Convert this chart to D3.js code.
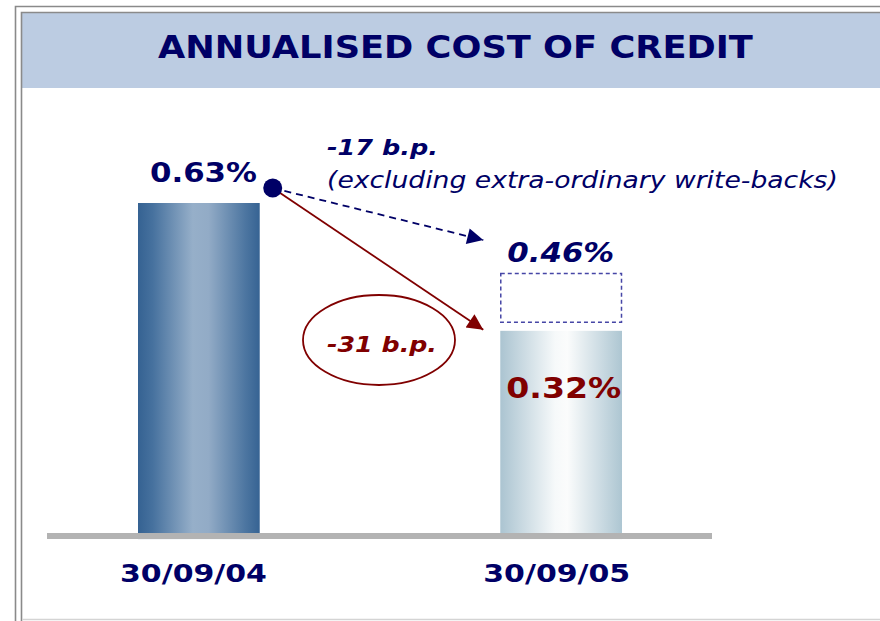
<!DOCTYPE html>
<html><head><meta charset="utf-8">
<script src="https://cdn.jsdelivr.net/npm/d3@7"></script>
<style>body{margin:0;background:#fff}svg{display:block}</style>
</head><body>
<script>
const title = "ANNUALISED COST OF CREDIT";
const categories = ["30/09/04", "30/09/05"];
const values = [0.63, 0.32];
const adjustedValue = 0.46; // excluding extra-ordinary write-backs
const valueLabels = ["0.63%", "0.32%"];
const adjustedLabel = "0.46%";
const deltaAdjusted = "-17 b.p.";
const deltaAdjustedNote = "(excluding extra-ordinary write-backs)";
const deltaReported = "-31 b.p.";

const W = 880, H = 621;
const navy = "#000066", red = "#800000";
const font = "DejaVu Sans, Verdana, sans-serif";

const svg = d3.select("body").append("svg").attr("width", W).attr("height", H);
const defs = svg.append("defs");

// gradients
const g1 = defs.append("linearGradient").attr("id", "g1");
[[0,"#356292"],[0.12,"#46719e"],[0.45,"#96afc9"],[0.58,"#92abc6"],[0.88,"#4d76a1"],[1,"#366393"]]
  .forEach(([o,c]) => g1.append("stop").attr("offset", o).attr("stop-color", c));
const g2 = defs.append("linearGradient").attr("id", "g2");
[[0,"#abc4d1"],[0.45,"#f6f9fa"],[0.55,"#fbfcfc"],[1,"#adc6d2"]]
  .forEach(([o,c]) => g2.append("stop").attr("offset", o).attr("stop-color", c));
const grads = ["url(#g1)", "url(#g2)"];

defs.append("marker").attr("id","arrNavy").attr("viewBox","0 0 10 10").attr("refX",10).attr("refY",5)
  .attr("markerWidth",20).attr("markerHeight",16).attr("markerUnits","userSpaceOnUse").attr("orient","auto")
  .append("path").attr("d","M0,0 L10,5 L0,10 Z").attr("fill",navy);
defs.append("marker").attr("id","arrRed").attr("viewBox","0 0 10 10").attr("refX",10).attr("refY",5)
  .attr("markerWidth",20).attr("markerHeight",16).attr("markerUnits","userSpaceOnUse").attr("orient","auto")
  .append("path").attr("d","M0,0 L10,5 L0,10 Z").attr("fill",red);

// frame
svg.append("rect").attr("x",22).attr("y",13).attr("width",W-22).attr("height",75).attr("fill","#bccce2");
svg.append("path").attr("d","M15.5,621 V6.5 H880").attr("fill","none").attr("stroke","#8a8a8a").attr("stroke-width",1.6);
svg.append("path").attr("d","M21.5,621 V12.5 H880").attr("fill","none").attr("stroke","#8a8a8a").attr("stroke-width",1.6);
svg.append("line").attr("x1",22).attr("x2",W).attr("y1",619.5).attr("y2",619.5).attr("stroke","#d4d4d4").attr("stroke-width",1.5);

// text stretched horizontally to match the reference's wider face
function txt(s, x0, yb, size, w, opts = {}) {
  const t = svg.append("text").attr("x", 0).attr("y", 0)
    .attr("font-family", font).attr("font-size", size)
    .attr("font-weight", opts.bold === false ? "normal" : "bold")
    .attr("font-style", opts.italic ? "italic" : "normal")
    .attr("fill", opts.fill || navy)
    .text(s);
  const w0 = t.node().getComputedTextLength();
  t.attr("transform", `translate(${x0},${yb}) scale(${w / w0},1)`);
  return t;
}

txt(title, 158, 58, 32, 595);

// scales
const x = d3.scaleBand().domain(categories).range([138, 622]).paddingInner(0.664).paddingOuter(0);
const y = d3.scaleLinear().domain([-0.18, 0.63]).range([537, 203]);
const bw = x.bandwidth();

// bars
svg.selectAll("rect.bar").data(categories).join("rect").attr("class","bar")
  .attr("x", d => x(d)).attr("width", bw)
  .attr("y", (d,i) => y(values[i])).attr("height", (d,i) => y(-0.185) - y(values[i]))
  .attr("fill", (d,i) => grads[i]);

// axis baseline
svg.append("line").attr("x1",47).attr("x2",712).attr("y1",y(-0.18)-1).attr("y2",y(-0.18)-1)
  .attr("stroke","#b3b3b3").attr("stroke-width",6);

// dashed box for adjusted value
const x1 = x(categories[0]);
const x2 = x(categories[1]);
svg.append("rect").attr("x", x2+0.5).attr("width", bw-1)
  .attr("y", y(adjustedValue)+0.5).attr("height", (y(values[1]) - 9) - y(adjustedValue))
  .attr("fill","none").attr("stroke","#4646a6").attr("stroke-width",1.5).attr("stroke-dasharray","4,3");

// category labels
categories.forEach((c, i) => txt(c, x(c) - 18 + i, 582, 24.5, 147));

// value labels
txt(valueLabels[0], x1 + 12, y(values[0]) - 21, 26, 107);
txt(valueLabels[1], x2 + 6, y(values[1]) + 67, 27.5, 115, {fill: red});
txt(adjustedLabel, x2 + 7, y(adjustedValue) - 11, 26, 107, {italic: true});

// arrows
const dot = [x1 + bw + 13, y(values[0]) - 15];
svg.append("line").attr("x1",dot[0]).attr("y1",dot[1]).attr("x2",x2-17).attr("y2",y(adjustedValue)-33)
  .attr("stroke",navy).attr("stroke-width",1.8).attr("stroke-dasharray","7,5").attr("marker-end","url(#arrNavy)");
svg.append("line").attr("x1",dot[0]).attr("y1",dot[1]).attr("x2",x2-17).attr("y2",y(values[1])-1)
  .attr("stroke",red).attr("stroke-width",1.8).attr("marker-end","url(#arrRed)");
svg.append("circle").attr("cx",dot[0]).attr("cy",dot[1]).attr("r",9.5).attr("fill",navy);

// annotations
txt(deltaAdjusted, 327, 155, 20.5, 111, {italic: true});
txt(deltaAdjustedNote, 327, 188, 23, 511, {italic: true, bold: false});

svg.append("ellipse").attr("cx",379).attr("cy",340).attr("rx",76).attr("ry",45)
  .attr("fill","none").attr("stroke",red).attr("stroke-width",1.8);
txt(deltaReported, 327, 352, 21, 110, {italic: true, fill: red});
</script>
</body></html>
